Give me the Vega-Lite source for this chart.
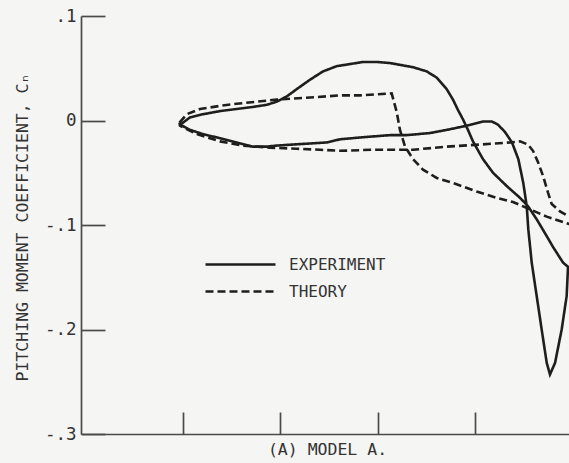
{
  "$schema": "https://vega.github.io/schema/vega-lite/v6.json",
  "width": 488,
  "height": 418,
  "autosize": {"type": "none"},
  "padding": {"left": 81, "top": 16, "right": 0, "bottom": 29},
  "background": "#f5f5f3",
  "config": {
    "view": {"stroke": null},
    "font": "DejaVu Sans Mono",
    "axis": {
      "grid": false,
      "domainColor": "#4a4a4a",
      "domainWidth": 1.7,
      "tickColor": "#4a4a4a",
      "tickWidth": 1.7,
      "labelFont": "DejaVu Sans Mono",
      "titleFont": "DejaVu Sans Mono",
      "labelColor": "#333333",
      "titleColor": "#333333",
      "titleFontWeight": "normal"
    }
  },
  "data": {
    "values": [
      {"series": "EXPERIMENT", "x": 0.977, "cm": -0.004},
      {"series": "EXPERIMENT", "x": 1.077, "cm": 0.003},
      {"series": "EXPERIMENT", "x": 1.210, "cm": 0.006},
      {"series": "EXPERIMENT", "x": 1.384, "cm": 0.009},
      {"series": "EXPERIMENT", "x": 1.555, "cm": 0.011},
      {"series": "EXPERIMENT", "x": 1.722, "cm": 0.013},
      {"series": "EXPERIMENT", "x": 1.863, "cm": 0.015},
      {"series": "EXPERIMENT", "x": 1.965, "cm": 0.018},
      {"series": "EXPERIMENT", "x": 2.068, "cm": 0.023},
      {"series": "EXPERIMENT", "x": 2.170, "cm": 0.030},
      {"series": "EXPERIMENT", "x": 2.306, "cm": 0.039},
      {"series": "EXPERIMENT", "x": 2.440, "cm": 0.047},
      {"series": "EXPERIMENT", "x": 2.580, "cm": 0.052},
      {"series": "EXPERIMENT", "x": 2.716, "cm": 0.054},
      {"series": "EXPERIMENT", "x": 2.849, "cm": 0.056},
      {"series": "EXPERIMENT", "x": 2.990, "cm": 0.056},
      {"series": "EXPERIMENT", "x": 3.126, "cm": 0.055},
      {"series": "EXPERIMENT", "x": 3.362, "cm": 0.051},
      {"series": "EXPERIMENT", "x": 3.502, "cm": 0.047},
      {"series": "EXPERIMENT", "x": 3.605, "cm": 0.041},
      {"series": "EXPERIMENT", "x": 3.707, "cm": 0.030},
      {"series": "EXPERIMENT", "x": 3.771, "cm": 0.020},
      {"series": "EXPERIMENT", "x": 3.823, "cm": 0.010},
      {"series": "EXPERIMENT", "x": 3.874, "cm": 0.001},
      {"series": "EXPERIMENT", "x": 3.925, "cm": -0.009},
      {"series": "EXPERIMENT", "x": 3.976, "cm": -0.020},
      {"series": "EXPERIMENT", "x": 4.079, "cm": -0.037},
      {"series": "EXPERIMENT", "x": 4.181, "cm": -0.050},
      {"series": "EXPERIMENT", "x": 4.325, "cm": -0.063},
      {"series": "EXPERIMENT", "x": 4.458, "cm": -0.074},
      {"series": "EXPERIMENT", "x": 4.540, "cm": -0.082},
      {"series": "EXPERIMENT", "x": 4.632, "cm": -0.095},
      {"series": "EXPERIMENT", "x": 4.734, "cm": -0.111},
      {"series": "EXPERIMENT", "x": 4.796, "cm": -0.121},
      {"series": "EXPERIMENT", "x": 4.899, "cm": -0.136},
      {"series": "EXPERIMENT", "x": 4.950, "cm": -0.140},
      {"series": "EXPERIMENT", "x": 4.936, "cm": -0.168},
      {"series": "EXPERIMENT", "x": 4.885, "cm": -0.200},
      {"series": "EXPERIMENT", "x": 4.817, "cm": -0.232},
      {"series": "EXPERIMENT", "x": 4.765, "cm": -0.243},
      {"series": "EXPERIMENT", "x": 4.732, "cm": -0.232},
      {"series": "EXPERIMENT", "x": 4.680, "cm": -0.200},
      {"series": "EXPERIMENT", "x": 4.629, "cm": -0.168},
      {"series": "EXPERIMENT", "x": 4.578, "cm": -0.136},
      {"series": "EXPERIMENT", "x": 4.543, "cm": -0.104},
      {"series": "EXPERIMENT", "x": 4.527, "cm": -0.082},
      {"series": "EXPERIMENT", "x": 4.492, "cm": -0.060},
      {"series": "EXPERIMENT", "x": 4.441, "cm": -0.037},
      {"series": "EXPERIMENT", "x": 4.376, "cm": -0.021},
      {"series": "EXPERIMENT", "x": 4.304, "cm": -0.011},
      {"series": "EXPERIMENT", "x": 4.233, "cm": -0.004},
      {"series": "EXPERIMENT", "x": 4.171, "cm": -0.001},
      {"series": "EXPERIMENT", "x": 4.079, "cm": -0.001},
      {"series": "EXPERIMENT", "x": 3.912, "cm": -0.005},
      {"series": "EXPERIMENT", "x": 3.707, "cm": -0.009},
      {"series": "EXPERIMENT", "x": 3.536, "cm": -0.012},
      {"series": "EXPERIMENT", "x": 3.297, "cm": -0.014},
      {"series": "EXPERIMENT", "x": 3.126, "cm": -0.014},
      {"series": "EXPERIMENT", "x": 2.849, "cm": -0.016},
      {"series": "EXPERIMENT", "x": 2.614, "cm": -0.018},
      {"series": "EXPERIMENT", "x": 2.477, "cm": -0.021},
      {"series": "EXPERIMENT", "x": 2.306, "cm": -0.022},
      {"series": "EXPERIMENT", "x": 2.132, "cm": -0.023},
      {"series": "EXPERIMENT", "x": 1.965, "cm": -0.024},
      {"series": "EXPERIMENT", "x": 1.863, "cm": -0.025},
      {"series": "EXPERIMENT", "x": 1.722, "cm": -0.025},
      {"series": "EXPERIMENT", "x": 1.555, "cm": -0.021},
      {"series": "EXPERIMENT", "x": 1.384, "cm": -0.017},
      {"series": "EXPERIMENT", "x": 1.210, "cm": -0.013},
      {"series": "EXPERIMENT", "x": 1.077, "cm": -0.009},
      {"series": "EXPERIMENT", "x": 0.977, "cm": -0.004},
      {"series": "THEORY", "x": 0.969, "cm": -0.002},
      {"series": "THEORY", "x": 1.043, "cm": 0.006},
      {"series": "THEORY", "x": 1.179, "cm": 0.011},
      {"series": "THEORY", "x": 1.384, "cm": 0.014},
      {"series": "THEORY", "x": 1.555, "cm": 0.016},
      {"series": "THEORY", "x": 1.760, "cm": 0.018},
      {"series": "THEORY", "x": 1.965, "cm": 0.020},
      {"series": "THEORY", "x": 2.306, "cm": 0.022},
      {"series": "THEORY", "x": 2.614, "cm": 0.024},
      {"series": "THEORY", "x": 2.818, "cm": 0.024},
      {"series": "THEORY", "x": 3.143, "cm": 0.026},
      {"series": "THEORY", "x": 3.195, "cm": 0.008},
      {"series": "THEORY", "x": 3.228, "cm": -0.009},
      {"series": "THEORY", "x": 3.280, "cm": -0.025},
      {"series": "THEORY", "x": 3.362, "cm": -0.037},
      {"series": "THEORY", "x": 3.464, "cm": -0.047},
      {"series": "THEORY", "x": 3.605, "cm": -0.055},
      {"series": "THEORY", "x": 3.809, "cm": -0.061},
      {"series": "THEORY", "x": 4.014, "cm": -0.068},
      {"series": "THEORY", "x": 4.219, "cm": -0.074},
      {"series": "THEORY", "x": 4.386, "cm": -0.078},
      {"series": "THEORY", "x": 4.560, "cm": -0.085},
      {"series": "THEORY", "x": 4.732, "cm": -0.092},
      {"series": "THEORY", "x": 4.960, "cm": -0.099},
      {"series": "THEORY", "x": 5.073, "cm": -0.101},
      {"series": "THEORY", "x": 5.073, "cm": -0.094},
      {"series": "THEORY", "x": 4.960, "cm": -0.092},
      {"series": "THEORY", "x": 4.868, "cm": -0.087},
      {"series": "THEORY", "x": 4.783, "cm": -0.080},
      {"series": "THEORY", "x": 4.745, "cm": -0.069},
      {"series": "THEORY", "x": 4.694, "cm": -0.053},
      {"series": "THEORY", "x": 4.643, "cm": -0.040},
      {"series": "THEORY", "x": 4.591, "cm": -0.029},
      {"series": "THEORY", "x": 4.540, "cm": -0.023},
      {"series": "THEORY", "x": 4.458, "cm": -0.020},
      {"series": "THEORY", "x": 4.356, "cm": -0.021},
      {"series": "THEORY", "x": 4.048, "cm": -0.023},
      {"series": "THEORY", "x": 3.707, "cm": -0.025},
      {"series": "THEORY", "x": 3.362, "cm": -0.028},
      {"series": "THEORY", "x": 2.952, "cm": -0.028},
      {"series": "THEORY", "x": 2.614, "cm": -0.029},
      {"series": "THEORY", "x": 2.409, "cm": -0.028},
      {"series": "THEORY", "x": 2.170, "cm": -0.027},
      {"series": "THEORY", "x": 1.896, "cm": -0.026},
      {"series": "THEORY", "x": 1.620, "cm": -0.024},
      {"series": "THEORY", "x": 1.384, "cm": -0.020},
      {"series": "THEORY", "x": 1.146, "cm": -0.013},
      {"series": "THEORY", "x": 0.974, "cm": -0.005},
      {"series": "THEORY", "x": 0.969, "cm": -0.002}
    ]
  },
  "mark": {"type": "line", "color": "#1e1e1e", "strokeWidth": 2.6, "clip": true},
  "encoding": {
    "x": {
      "field": "x",
      "type": "quantitative",
      "scale": {"domain": [-0.04, 4.96], "nice": false, "zero": false},
      "axis": {
        "values": [1, 2, 3, 4],
        "labels": false,
        "tickSize": -22,
        "title": "(A) MODEL A.",
        "titleFontSize": 16.5,
        "titleX": 246,
        "titleY": 15,
        "titleAlign": "center",
        "titleBaseline": "middle"
      }
    },
    "y": {
      "field": "cm",
      "type": "quantitative",
      "scale": {"domain": [-0.3, 0.1], "nice": false, "zero": false},
      "axis": {
        "values": [-0.3, -0.2, -0.1, 0, 0.1],
        "labelExpr": "datum.value == 0 ? '0' : (datum.value < 0 ? '-' : '') + '.' + round(abs(datum.value) * 10)",
        "labelFontSize": 17.5,
        "tickSize": -24,
        "labelPadding": 29,
        "title": "PITCHING MOMENT COEFFICIENT, Cₙ",
        "titleFontSize": 16.5,
        "titleAngle": -90,
        "titleX": -59,
        "titleY": 211,
        "titleAlign": "center",
        "titleBaseline": "middle"
      }
    },
    "strokeDash": {
      "field": "series",
      "type": "nominal",
      "scale": {"domain": ["EXPERIMENT", "THEORY"], "range": [[1, 0], [8, 4]]},
      "legend": {
        "title": null,
        "orient": "none",
        "legendX": 151,
        "legendY": 240,
        "padding": 0,
        "symbolType": "M-5,0H5",
        "symbolSize": 196,
        "symbolStrokeWidth": 2.6,
        "symbolStrokeColor": "#1e1e1e",
        "labelFont": "DejaVu Sans Mono",
        "labelFontSize": 16,
        "labelColor": "#333333",
        "labelOffset": 40,
        "rowPadding": 10
      }
    },
    "order": {"value": null}
  }
}
